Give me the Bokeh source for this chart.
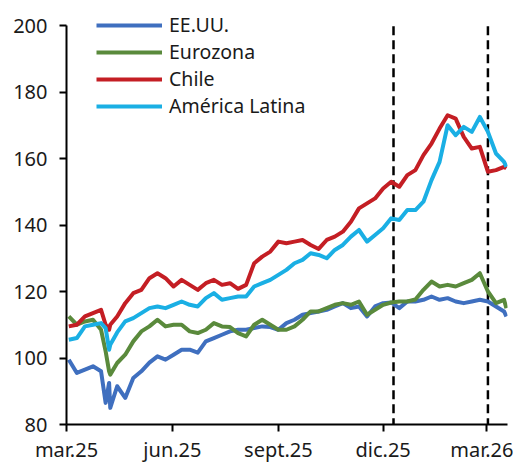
import pandas as pd
from bokeh.plotting import figure
from bokeh.models import Legend, LegendItem, FixedTicker, Range1d
from bokeh.embed import file_html
from bokeh.resources import INLINE

dates = ["2025-03-03", "2025-03-10", "2025-03-17", "2025-03-24", "2025-03-31", "2025-04-04",
         "2025-04-07", "2025-04-08", "2025-04-14", "2025-04-21", "2025-04-28", "2025-05-05",
         "2025-05-12", "2025-05-19", "2025-05-26", "2025-06-02", "2025-06-09", "2025-06-16",
         "2025-06-23", "2025-06-30", "2025-07-07", "2025-07-14", "2025-07-21", "2025-07-28",
         "2025-08-04", "2025-08-11", "2025-08-18", "2025-08-25", "2025-09-01", "2025-09-08",
         "2025-09-15", "2025-09-22", "2025-09-29", "2025-10-06", "2025-10-13", "2025-10-20",
         "2025-10-27", "2025-11-03", "2025-11-10", "2025-11-17", "2025-11-24", "2025-12-01",
         "2025-12-08", "2025-12-15", "2025-12-22", "2025-12-29", "2026-01-05", "2026-01-12",
         "2026-01-19", "2026-01-26", "2026-02-02", "2026-02-09", "2026-02-16", "2026-02-23",
         "2026-03-02", "2026-03-09", "2026-03-16", "2026-03-18"]

eeuu = [99.5, 95.5, 96.5, 97.5, 96.0, 86.5, 92.5, 85.0, 91.5, 88.0, 94.0, 96.0,
        98.6, 100.5, 99.5, 101.0, 102.5, 102.5, 101.6, 105.0, 106.0, 107.0, 108.0, 108.5,
        108.5, 109.0, 109.5, 109.3, 108.5, 110.5, 111.5, 113.0, 113.5, 114.0, 114.5, 115.5,
        116.5, 115.0, 115.5, 112.5, 115.5, 116.5, 116.7, 115.0, 117.0, 117.0, 117.5, 118.5,
        117.5, 118.0, 117.0, 116.5, 117.0, 117.5, 117.0, 115.5, 114.0, 112.5]

eurozona = [112.5, 110.0, 111.0, 111.5, 108.5, 102.0, 96.0, 95.0, 98.5, 101.0, 105.0, 108.0,
            109.5, 111.5, 109.5, 110.0, 110.0, 108.0, 107.5, 108.5, 110.5, 109.5, 109.3, 107.5,
            106.5, 110.0, 111.5, 110.0, 108.5, 108.5, 109.5, 111.5, 114.0, 114.0, 115.0, 116.0,
            116.5, 116.0, 117.0, 113.0, 114.5, 116.0, 116.7, 117.0, 117.0, 117.6, 120.5, 123.0,
            121.5, 122.0, 121.5, 122.5, 123.5, 125.5, 120.0, 116.5, 117.5, 115.0]

chile = [109.5, 110.0, 112.5, 113.5, 114.5, 110.0, 108.5, 110.0, 112.5, 116.5, 119.5, 120.5,
         124.0, 125.5, 124.0, 121.5, 123.5, 122.0, 120.5, 122.5, 123.5, 122.0, 122.5, 120.8,
         122.0, 128.5, 130.5, 132.0, 135.0, 134.5, 135.0, 135.5, 134.0, 132.8, 135.5, 136.5,
         138.0, 141.0, 145.0, 146.5, 148.0, 151.0, 153.0, 151.5, 155.0, 156.5, 161.0, 164.5,
         169.0, 173.0, 172.0, 166.5, 163.0, 163.5, 156.0, 156.5, 157.5, 157.0]

america_latina = [105.5, 106.0, 109.5, 110.0, 110.5, 109.0, 102.5, 104.0, 107.7, 111.0, 112.0, 113.5,
                  115.0, 115.5, 115.0, 116.0, 117.0, 116.0, 115.5, 118.0, 119.5, 117.5, 118.0, 118.5,
                  118.5, 121.5, 122.5, 123.5, 125.0, 126.5, 128.5, 129.5, 131.5, 131.0, 130.0, 132.5,
                  134.0, 136.5, 138.5, 135.0, 137.0, 139.0, 142.0, 141.5, 144.5, 144.5, 147.0, 153.5,
                  159.0, 170.0, 167.0, 169.5, 168.0, 172.5, 168.0, 161.5, 159.0, 157.5]

series_names = ["EE.UU.", "Eurozona", "Chile", "América Latina"]
series_colors = ["#3F6FBF", "#5A8A3C", "#C41E24", "#1AAFE4"]

tick_dates = ["2025-03-01", "2025-06-01", "2025-09-01", "2025-12-01", "2026-03-01"]
tick_labels = ["mar.25", "jun.25", "sept.25", "dic.25", "mar.26"]
event_dates = ["2025-12-10", "2026-03-02"]
y_ticks = [80, 100, 120, 140, 160, 180, 200]
y_min, y_max = 80, 200


def ms(d):
    return pd.Timestamp(d).timestamp() * 1000.0


FONT = "Noto Sans"
TEXT = "#1a1a1a"

x = pd.to_datetime(dates)

# frame extends 20 px above the 200 line so that the legend is not clipped
px_per_unit = 399 / (y_max - y_min)
p = figure(frame_width=441, frame_height=419, x_axis_type="datetime",
           output_backend="svg", toolbar_location=None,
           x_range=Range1d(ms("2025-03-01"), ms("2026-03-19")),
           y_range=Range1d(y_min, y_max + 20 / px_per_unit),
           min_border_left=66, min_border_right=6, min_border_top=5, min_border_bottom=32)

p.outline_line_color = None
p.xgrid.grid_line_color = None
p.ygrid.grid_line_color = None
p.background_fill_color = "white"
p.border_fill_color = "white"

for ax in (p.xaxis[0], p.yaxis[0]):
    ax.axis_line_color = "black"
    ax.axis_line_width = 2
    ax.major_tick_line_color = "black"
    ax.major_tick_line_width = 2
    ax.major_tick_out = 7
    ax.major_tick_in = 0
    ax.minor_tick_line_color = None
    ax.major_label_text_font = FONT
    ax.major_label_text_font_size = "20px"
    ax.major_label_text_color = TEXT

p.xaxis.ticker = FixedTicker(ticks=[ms(d) for d in tick_dates])
p.xaxis.major_label_overrides = {ms(d): lab for d, lab in zip(tick_dates, tick_labels)}
p.xaxis.major_label_standoff = 4
p.yaxis.ticker = FixedTicker(ticks=y_ticks)
p.yaxis.major_label_standoff = 12
p.yaxis.bounds = (y_min, y_max)

ev = pd.to_datetime(event_dates)
p.segment(x0=ev, y0=[y_min - 5] * len(ev), x1=ev, y1=[y_max] * len(ev),
          line_color="black", line_width=2.5, line_dash="9 5")

renderers = []
for vals, col in zip([eeuu, eurozona, chile, america_latina], series_colors):
    r = p.line(x, vals, line_color=col, line_width=4, line_join="round")
    renderers.append(r)

legend = Legend(items=[LegendItem(label=n, renderers=[r]) for n, r in zip(series_names, renderers)],
                location=(30, 305))
legend.glyph_width = 66
legend.glyph_height = 20
legend.label_height = 20
legend.label_standoff = 7
legend.spacing = -3
legend.padding = 0
legend.margin = 0
legend.border_line_alpha = 0
legend.background_fill_alpha = 0
legend.label_text_font = FONT
legend.label_text_font_size = "19.5px"
legend.label_text_color = TEXT
p.add_layout(legend)

open("out.html", "w").write(file_html(p, INLINE))
